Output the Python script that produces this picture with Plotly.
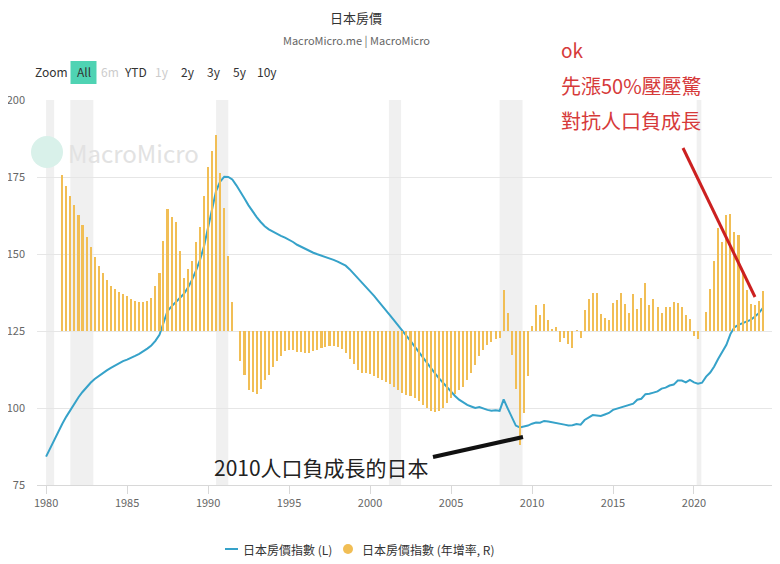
import plotly.graph_objects as go
import pandas as pd

# house price index (left axis), quarterly from 1980Q1
index_values = [
    84.2, 87.0, 89.8, 92.5, 94.9, 97.2, 99.4, 101.5, 103.5, 105.2, 106.8, 108.2,
    109.4, 110.4, 111.3, 112.2, 113.0, 113.8, 114.5, 115.2, 115.7, 116.2, 116.9, 117.6,
    118.4, 119.3, 120.3, 121.8, 123.8, 127.5, 131.5, 133.0, 134.3, 135.5, 137.0, 139.0,
    141.5, 144.5, 148.0, 152.5, 158.5, 165.0, 170.5, 173.5, 175.1, 175.0, 174.2, 172.3,
    170.3, 168.0, 165.8, 163.8, 162.0, 160.4, 159.0, 158.0, 157.2, 156.5, 155.9, 155.3,
    154.7, 153.9, 153.0, 152.3, 151.6, 151.0, 150.4, 149.9, 149.5, 149.0, 148.6, 148.1,
    147.5, 146.9, 146.2, 145.0, 143.6, 142.2, 140.8, 139.3, 137.8, 136.4, 134.8, 133.3,
    131.7, 130.0, 128.4, 126.8, 125.2, 123.5, 121.8, 120.0, 118.2, 116.4, 114.7, 113.0,
    111.3, 109.7, 108.2, 106.8, 105.3, 103.9, 102.7, 101.7, 101.0, 100.5, 100.0, 100.3,
    99.8, 99.4, 99.1, 99.3, 99.1, 102.8, 99.9, 96.8, 94.3, 93.7, 94.0, 94.3,
    94.9, 95.3, 95.2, 95.8, 95.6, 95.4, 95.1, 95.0, 94.6, 94.3, 94.4, 94.8,
    94.6, 96.1, 97.0, 97.7, 97.6, 97.4, 97.9, 98.4, 99.4, 99.8, 100.3, 100.7,
    101.2, 101.4, 102.7, 103.0, 104.5, 104.6, 105.0, 105.4, 106.3, 106.6, 107.3, 107.6,
    108.9, 108.9, 108.3, 109.1, 108.3, 107.9, 108.2, 110.2, 111.5, 113.5, 116.0, 118.5,
    120.5, 124.0, 126.2, 127.0, 127.6, 128.0, 128.6, 129.6, 130.8, 132.4,
]

# year-over-year change in % (right axis), quarterly from 1981Q1
yoy_values = [
    16.2, 15.1, 14.0, 13.1, 12.1, 11.0, 9.8, 8.7, 7.7, 6.8,
    6.0, 5.3, 4.7, 4.4, 4.1, 3.8, 3.6, 3.3, 3.1, 3.0,
    3.0, 3.1, 3.4, 4.7, 6.0, 9.3, 12.7, 11.8, 11.3, 8.3,
    5.5, 6.4, 7.3, 9.2, 10.8, 14.0, 17.0, 18.7, 20.4, 16.4,
    12.8, 7.8, 3.0, None,
    -3.1, -4.6, -6.1, -6.3, -6.5, -6.0, -5.1, -4.6, -3.7, -3.1,
    -2.6, -2.1, -2.0, -2.0, -2.2, -2.2, -2.3, -2.3, -2.1, -2.0,
    -1.8, -1.7, -1.6, -1.6, -1.7, -1.9, -2.3, -2.9, -3.4, -4.0,
    -4.4, -4.4, -4.5, -4.7, -4.9, -5.1, -5.3, -5.5, -5.8, -6.1,
    -6.4, -6.7, -6.8, -7.0, -7.3, -7.7, -8.0, -8.3, -8.4, -8.3,
    -8.0, -7.5, -7.0, -6.5, -6.1, -5.8, -5.1, -4.4, -3.5,
    -2.6, -2.0, -1.5, -1.1, -0.8, -0.7,
    4.3, 1.9,
    -2.5, -6.0, -11.8, -8.5, -4.7, 0.5, 2.7, 1.7, 2.8, 1.1,
    0.2, 0.4, -1.1, -0.7, -1.4, -1.8, 0.1, -0.7, 2.2, 3.3,
    4.0, 4.0, 1.8, 1.4, 1.1, 2.9, 3.2, 3.9, 2.8, 1.9,
    3.8, 2.3, 3.4, 5.0, 2.7, 3.3, 2.5, 1.9, 2.5, 2.5,
    3.0, 2.9, 2.5, 1.7, 1.2,
    -0.5, -0.8, None, 2.0, 4.4, 7.3, 10.7, 9.2, 12.1, 12.2,
    10.3, 10.0, 6.0, 4.3, 2.8, 2.7, 3.1, 4.2,
]

recessions = [
    ("1980-01-01", "1980-07-01"),
    ("1981-07-01", "1982-12-01"),
    ("1990-07-01", "1991-04-01"),
    ("2001-03-01", "2001-12-01"),
    ("2008-01-01", "2009-06-01"),
    ("2020-03-01", "2020-06-15"),
]

index_dates = pd.date_range("1980-01-01", periods=len(index_values), freq="QS")
yoy_dates = pd.date_range("1981-01-01", periods=len(yoy_values), freq="QS")

LINE_C = "#36a2c9"
BAR_C = "#f1be55"
RED = "#d63a3a"
FONT = "Noto Sans CJK TC, Open Sans, sans-serif"

# plot area in page pixels; the page body has an 8px margin
OFF = 8
L, R, T, B = 37, 775, 100, 485


def px(x):
    return (x - L) / (R - L)


def py(y):
    return (B - y) / (B - T)


fig = go.Figure()

fig.add_trace(go.Bar(
    x=yoy_dates, y=yoy_values, yaxis="y2",
    marker=dict(color=BAR_C, line=dict(width=0)),
    width=46 * 86400000, name="日本房價指數 (年增率, R)", showlegend=False,
))
fig.add_trace(go.Scatter(
    x=index_dates, y=index_values, mode="lines",
    line=dict(color=LINE_C, width=2), name="日本房價指數 (L)", showlegend=False,
))

shapes = []
for a, b in recessions:
    shapes.append(dict(type="rect", xref="x", yref="paper", x0=a, x1=b, y0=0, y1=1,
                       fillcolor="#f0f0f0", line=dict(width=0), layer="below"))

# watermark logo
shapes.append(dict(type="circle", xref="paper", yref="paper",
                   x0=px(31), x1=px(63), y0=py(168), y1=py(136),
                   fillcolor="#d9f1ea", line=dict(width=0), layer="below"))
# "All" button
shapes.append(dict(type="rect", xref="paper", yref="paper",
                   x0=px(70.5), x1=px(96.5), y0=py(84), y1=py(61),
                   fillcolor="#4fd3b3", line=dict(width=0)))
# hand drawn lines
shapes.append(dict(type="line", xref="paper", yref="paper",
                   x0=px(683), y0=py(148), x1=px(755), y1=py(297),
                   line=dict(color="#cc2020", width=3)))
shapes.append(dict(type="line", xref="paper", yref="paper",
                   x0=px(433), y0=py(457), x1=px(523), y1=py(437),
                   line=dict(color="#111111", width=4)))
# legend symbols
shapes.append(dict(type="line", xref="paper", yref="paper",
                   x0=px(225), x1=px(238), y0=py(549), y1=py(549),
                   line=dict(color=LINE_C, width=2)))
shapes.append(dict(type="circle", xref="paper", yref="paper",
                   x0=px(343), x1=px(353), y0=py(554), y1=py(544),
                   fillcolor=BAR_C, line=dict(width=0)))

ann = []


def text(x, y, s, size, color, anchor="center"):
    ann.append(dict(text=s, x=px(x), y=py(y), xref="paper", yref="paper",
                    xanchor=anchor, yanchor="middle", showarrow=False,
                    font=dict(size=size, color=color, family=FONT)))


text(356, 17, "日本房價", 13, "#333333")
text(356, 40, "MacroMicro.me | MacroMicro", 11, "#666666")
text(51, 72, "Zoom", 12, "#333333")
text(83.5, 72, "All", 12, "#333333")
for lbl, xc, col in [("6m", 110, "#cccccc"), ("YTD", 135, "#333333"), ("1y", 162, "#cccccc"),
                     ("2y", 188, "#333333"), ("3y", 214, "#333333"), ("5y", 240, "#333333"),
                     ("10y", 267, "#333333")]:
    text(xc, 72, lbl, 12, col)
text(66, 152, "MacroMicro", 24, "#e2e2e2", "left")
text(559, 49, "ok", 19, RED, "left")
text(559, 85, "先漲50%壓壓驚", 20, RED, "left")
text(559, 120, "對抗人口負成長", 20, RED, "left")
text(212, 467, "2010人口負成長的日本", 21, "#222222", "left")
text(241, 549, "日本房價指數 (L)", 12, "#333333", "left")
text(360, 549, "日本房價指數 (年增率, R)", 12, "#333333", "left")

fig.update_layout(
    width=780 - OFF, height=564 - OFF,
    margin=dict(l=L - OFF, r=780 - R, t=T - OFF, b=564 - B),
    paper_bgcolor="white", plot_bgcolor="white",
    font=dict(family=FONT, color="#666666"),
    bargap=0,
    shapes=shapes, annotations=ann,
    xaxis=dict(
        type="date", range=["1979-06-10", "2025-01-01"], automargin=False,
        tick0="1980-01-01", dtick="M60", tickformat="%Y",
        showgrid=False, showline=True, linecolor="#d8d8d8", linewidth=1,
        ticks="outside", ticklen=8, tickcolor="#d8d8d8",
        tickfont=dict(size=11, color="#666666"),
    ),
    yaxis=dict(
        range=[75, 200], dtick=25, showgrid=True, gridcolor="#e6e6e6", automargin=False,
        zeroline=False, showline=False, ticks="", ticklabelstandoff=11,
        tickfont=dict(size=11, color="#666666"),
    ),
    yaxis2=dict(range=[-16, 24], overlaying="y", side="right", visible=False),
)

fig.write_html("out.html")
